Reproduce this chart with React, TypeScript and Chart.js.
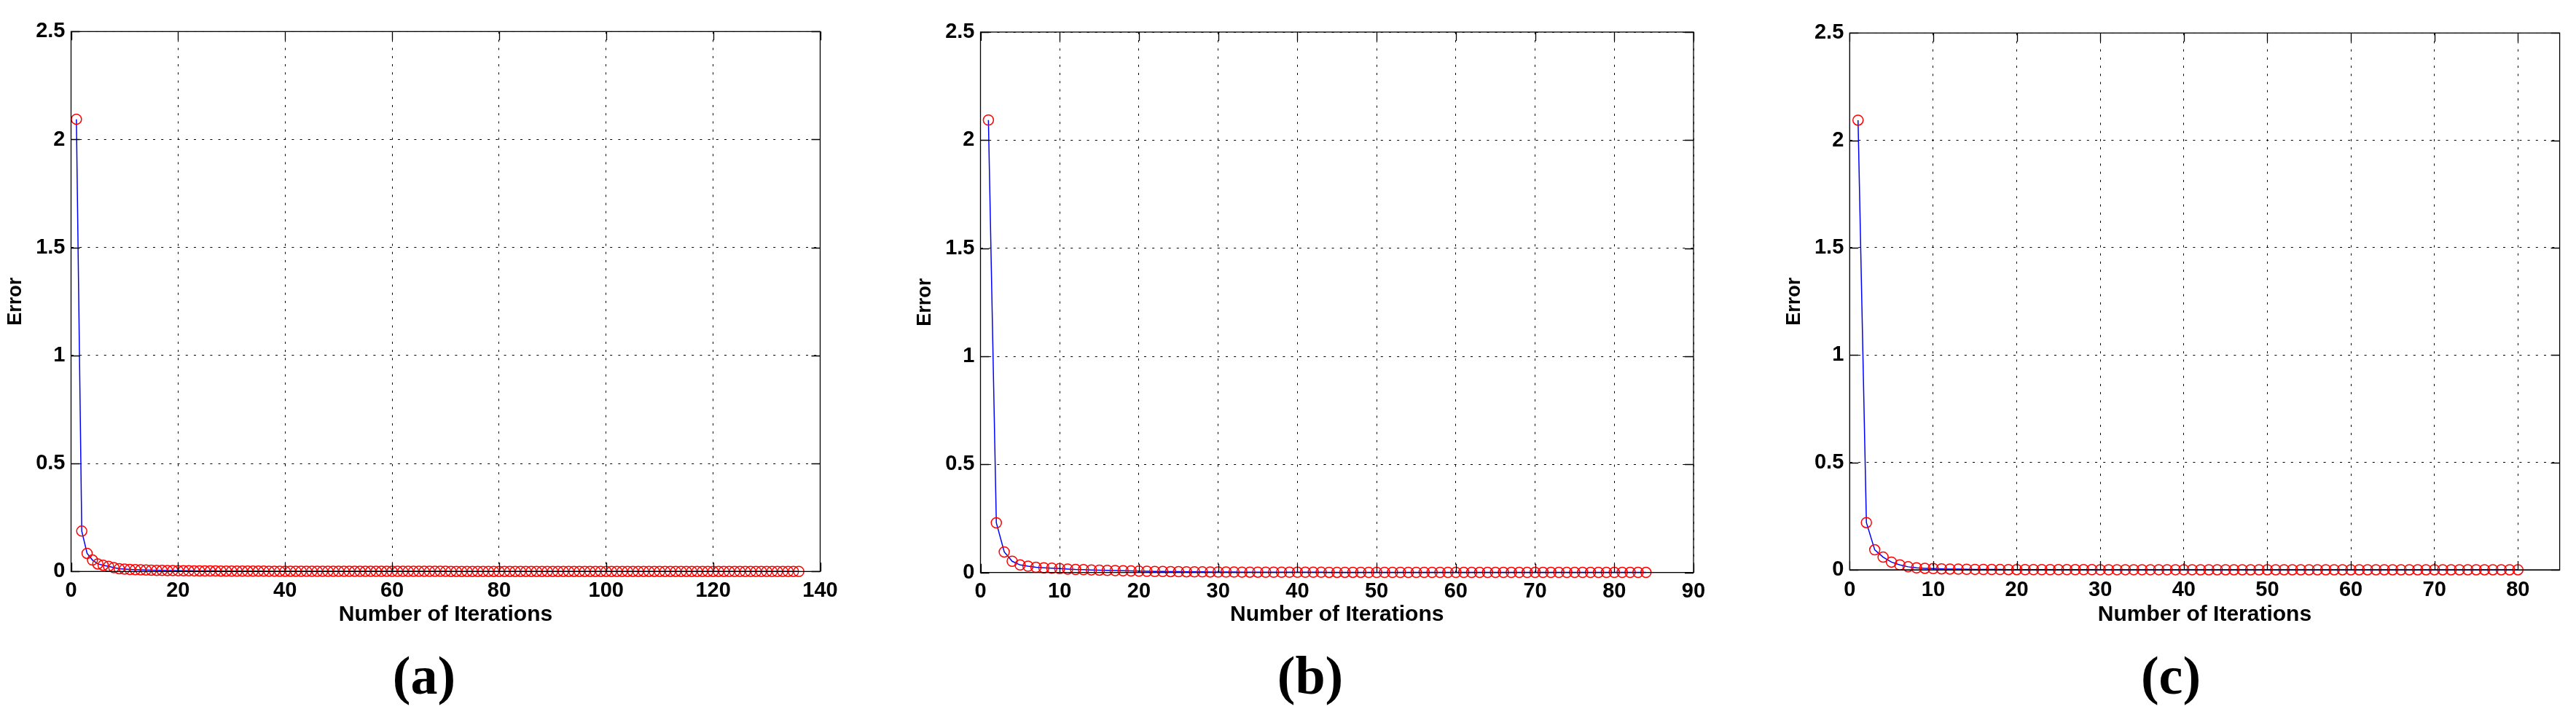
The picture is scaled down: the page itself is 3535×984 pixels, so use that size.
import React, { useEffect, useRef } from 'react';
import { Chart, registerables } from 'chart.js';

Chart.register(...registerables);

// ---------- data ----------
const errorA = [
  2.094, 0.187, 0.084, 0.053, 0.035, 0.029, 0.024, 0.018, 0.013, 0.011,
  0.0095, 0.0085, 0.0076, 0.0068, 0.0061, 0.0055, 0.005, 0.0046, 0.0042, 0.0039,
  0.0036, 0.0033, 0.0031, 0.0029, 0.0027, 0.0025, 0.0024, 0.0022, 0.0021, 0.002,
  0.0019, 0.0018, 0.0017, 0.0016, 0.0016, 0.0015, 0.0014, 0.0014, 0.0013, 0.0013,
  0.0012, 0.0012, 0.0011, 0.0011, 0.0011, 0.001, 0.001, 0.001, 0.0009, 0.0009,
  0.0009, 0.0009, 0.0008, 0.0008, 0.0008, 0.0008, 0.0007, 0.0007, 0.0007, 0.0007,
  0.0007, 0.0006, 0.0006, 0.0006, 0.0006, 0.0006, 0.0006, 0.0006, 0.0006, 0.0006,
  0.0005, 0.0005, 0.0005, 0.0005, 0.0005, 0.0005, 0.0005, 0.0005, 0.0005, 0.0005,
  0.0005, 0.0005, 0.0005, 0.0005, 0.0005, 0.0005, 0.0005, 0.0005, 0.0005, 0.0005,
  0.0005, 0.0005, 0.0004, 0.0004, 0.0004, 0.0004, 0.0004, 0.0004, 0.0004, 0.0004,
  0.0004, 0.0004, 0.0004, 0.0004, 0.0004, 0.0004, 0.0004, 0.0004, 0.0004, 0.0004,
  0.0004, 0.0004, 0.0004, 0.0004, 0.0004, 0.0004, 0.0004, 0.0004, 0.0004, 0.0004,
  0.0004, 0.0004, 0.0003, 0.0003, 0.0003, 0.0003, 0.0003, 0.0003, 0.0003, 0.0003,
  0.0003, 0.0003, 0.0003, 0.0003, 0.0003, 0.0003,
];

const errorB = [
  2.093, 0.23, 0.095, 0.052, 0.035, 0.029, 0.024, 0.022, 0.02, 0.018,
  0.016, 0.014, 0.013, 0.012, 0.011, 0.01, 0.009, 0.008, 0.007, 0.0062,
  0.0056, 0.005, 0.0046, 0.0042, 0.0038, 0.0034, 0.0031, 0.0028, 0.0026, 0.0024,
  0.0022, 0.002, 0.0019, 0.0018, 0.0017, 0.0016, 0.0015, 0.0014, 0.0013, 0.0012,
  0.0012, 0.0011, 0.0011, 0.001, 0.001, 0.0009, 0.0009, 0.0009, 0.0008, 0.0008,
  0.0008, 0.0007, 0.0007, 0.0007, 0.0007, 0.0006, 0.0006, 0.0006, 0.0006, 0.0006,
  0.0005, 0.0005, 0.0005, 0.0005, 0.0005, 0.0005, 0.0005, 0.0005, 0.0005, 0.0005,
  0.0005, 0.0005, 0.0004, 0.0004, 0.0004, 0.0004, 0.0004, 0.0004, 0.0004, 0.0004,
  0.0004, 0.0004, 0.0004, 0.0004,
];

const errorC = [
  2.094, 0.22, 0.093, 0.059, 0.036, 0.023, 0.014, 0.009, 0.007, 0.0057,
  0.0045, 0.0036, 0.003, 0.0025, 0.0021, 0.0018, 0.0015, 0.0013, 0.0011, 0.001,
  0.0009, 0.0008, 0.0007, 0.0007, 0.0006, 0.0006, 0.0005, 0.0005, 0.0005, 0.0004,
  0.0004, 0.0004, 0.0004, 0.0004, 0.0004, 0.0004, 0.0004, 0.0004, 0.0004, 0.0004,
  0.0004, 0.0003, 0.0003, 0.0003, 0.0003, 0.0003, 0.0003, 0.0003, 0.0003, 0.0003,
  0.0003, 0.0003, 0.0003, 0.0003, 0.0003, 0.0003, 0.0003, 0.0003, 0.0003, 0.0003,
  0.0003, 0.0003, 0.0002, 0.0002, 0.0002, 0.0002, 0.0002, 0.0002, 0.0002, 0.0002,
  0.0002, 0.0002, 0.0002, 0.0002, 0.0002, 0.0002, 0.0002, 0.0002, 0.0002, 0.0002,
];

const xTicksA = [0, 20, 40, 60, 80, 100, 120, 140];
const xTicksB = [0, 10, 20, 30, 40, 50, 60, 70, 80, 90];
const xTicksC = [0, 10, 20, 30, 40, 50, 60, 70, 80];
const yTicks = [0, 0.5, 1, 1.5, 2, 2.5];
const yTickLabels = ['0', '0.5', '1', '1.5', '2', '2.5'];
const captions = ['(a)', '(b)', '(c)'];
const xTitle = 'Number of Iterations';
const yTitle = 'Error';

// ---------- layout (positions / styles) ----------
const H = 984;
const XTITLE_MID = 843.5;
const CAPTION_BASE = 952;
const TICK_LEN = 12;
const SANS = "'Liberation Sans', Arial, Helvetica, sans-serif";

const panels = [
  { values: errorA, xTicks: xTicksA, xMax: 140, caption: captions[0], canvasLeft: 0, canvasWidth: 1200,
    plotLeft: 97.5, plotRight: 1125.5, plotTop: 43.3, plotBottom: 784.3, captionX: 582, tickPad: 8.8 },
  { values: errorB, xTicks: xTicksB, xMax: 90, caption: captions[1], canvasLeft: 1248, canvasWidth: 1152,
    plotLeft: 1345.5, plotRight: 2324, plotTop: 44, plotBottom: 785.7, captionX: 1798, tickPad: 8.6 },
  { values: errorC, xTicks: xTicksC, xMax: 85, caption: captions[2], canvasLeft: 2441, canvasWidth: 1094,
    plotLeft: 2538.3, plotRight: 3512.6, plotTop: 45.3, plotBottom: 782, captionX: 2979, tickPad: 10.3 },
];

const framePlugin = {
  id: 'frame',
  afterDraw(chart: any, _args: any, opts: any) {
    const { ctx, chartArea } = chart;
    const { left, right, top, bottom } = chartArea;
    const xs = chart.scales.x;
    const ys = chart.scales.y;
    ctx.save();
    ctx.setLineDash([]);
    ctx.strokeStyle = '#000';
    ctx.lineWidth = 1.3;
    ctx.strokeRect(left, top, right - left, bottom - top);
    ctx.beginPath();
    xs.ticks.forEach((t: any) => {
      const px = Math.round(xs.getPixelForValue(t.value)) + 0.5;
      ctx.moveTo(px, bottom);
      ctx.lineTo(px, bottom - TICK_LEN);
      ctx.moveTo(px, top);
      ctx.lineTo(px, top + TICK_LEN);
    });
    ys.ticks.forEach((t: any) => {
      const py = Math.round(ys.getPixelForValue(t.value)) + 0.5;
      ctx.moveTo(left, py);
      ctx.lineTo(left + TICK_LEN, py);
      ctx.moveTo(right, py);
      ctx.lineTo(right - TICK_LEN, py);
    });
    ctx.stroke();
    ctx.fillStyle = '#000';
    ctx.font = "bold 74px 'Liberation Serif', 'Times New Roman', serif";
    ctx.textAlign = 'center';
    ctx.textBaseline = 'alphabetic';
    ctx.fillText(opts.caption, opts.captionX, CAPTION_BASE);
    ctx.restore();
  },
};

function Panel({ cfg }: { cfg: typeof panels[number] }) {
  const ref = useRef<HTMLCanvasElement>(null);
  useEffect(() => {
    const canvas = ref.current!;
    const yW = cfg.plotLeft - cfg.canvasLeft;
    const xH = XTITLE_MID - cfg.plotBottom + 18;
    const chart = new Chart(canvas, {
      type: 'line',
      data: {
        datasets: [
          {
            data: cfg.values.map((v, i) => ({ x: i + 1, y: v })),
            borderColor: '#0000ff',
            borderWidth: 1.5,
            pointRadius: 7,
            pointHoverRadius: 7,
            pointBorderColor: '#ff0000',
            pointBackgroundColor: 'rgba(0,0,0,0)',
            pointBorderWidth: 1.5,
            tension: 0,
            fill: false,
            clip: false as any,
          },
        ],
      },
      options: {
        responsive: false,
        animation: false,
        events: [],
        layout: {
          padding: {
            left: 0,
            top: cfg.plotTop,
            right: cfg.canvasWidth - (cfg.plotRight - cfg.canvasLeft),
            bottom: H - cfg.plotBottom - xH,
          },
        },
        plugins: {
          legend: { display: false },
          tooltip: { enabled: false },
          frame: { caption: cfg.caption, captionX: cfg.captionX - cfg.canvasLeft },
        } as any,
        scales: {
          x: {
            type: 'linear',
            min: 0,
            max: cfg.xMax,
            afterBuildTicks: (s: any) => {
              s.ticks = cfg.xTicks.map((v) => ({ value: v }));
            },
            afterFit: (s: any) => {
              s.height = xH;
            },
            grid: { color: '#000', lineWidth: 1, drawTicks: false, drawOnChartArea: true },
            border: { display: true, color: '#000', width: 1, dash: [3, 8.2] },
            ticks: {
              color: '#000',
              padding: cfg.tickPad,
              maxRotation: 0,
              autoSkip: false,
              font: { family: SANS, size: 29, weight: 'bold', lineHeight: 1.2 },
              callback: (v: any) => String(v),
            },
            title: {
              display: true,
              text: xTitle,
              color: '#000',
              padding: { top: 0, bottom: 0 },
              font: { family: SANS, size: 30, weight: 'bold', lineHeight: 1.2 },
            },
          },
          y: {
            type: 'linear',
            min: 0,
            max: 2.5,
            afterBuildTicks: (s: any) => {
              s.ticks = yTicks.map((v) => ({ value: v }));
            },
            afterFit: (s: any) => {
              s.width = yW;
            },
            grid: { color: '#000', lineWidth: 1, drawTicks: false, drawOnChartArea: true },
            border: { display: true, color: '#000', width: 1, dash: [3, 8.2] },
            ticks: {
              color: '#000',
              padding: 8,
              autoSkip: false,
              font: { family: SANS, size: 29, weight: 'bold', lineHeight: 1.2 },
              callback: (_v: any, i: number) => yTickLabels[i],
            },
            title: {
              display: true,
              text: yTitle,
              color: '#000',
              padding: { top: yW - 76 - 16.2, bottom: 0 },
              font: { family: SANS, size: 27, weight: 'bold', lineHeight: 1.2 },
            },
          },
        },
      } as any,
      plugins: [framePlugin as any],
    });
    return () => chart.destroy();
  }, [cfg]);
  return (
    <canvas
      ref={ref}
      width={cfg.canvasWidth}
      height={H}
      style={{ position: 'absolute', left: cfg.canvasLeft, top: 0, width: cfg.canvasWidth, height: H }}
    />
  );
}

export default function App() {
  return (
    <div style={{ position: 'absolute', left: 0, top: 0, width: 3535, height: H, background: '#fff', overflow: 'hidden' }}>
      {panels.map((p, i) => (
        <Panel key={i} cfg={p} />
      ))}
    </div>
  );
}
